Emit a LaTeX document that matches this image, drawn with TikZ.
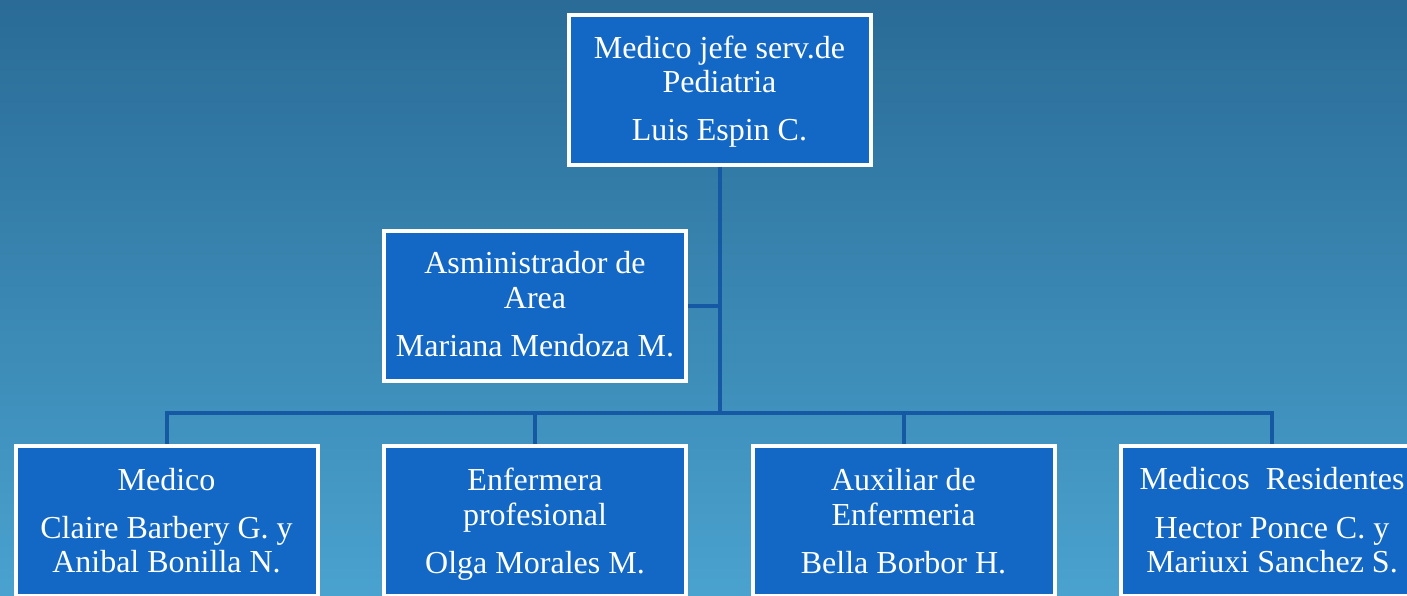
\documentclass[tikz,border=0pt]{standalone}
\usepackage{fontspec}
\setmainfont{Liberation Serif}
\definecolor{bgtop}{HTML}{2A6B97}
\definecolor{bgbot}{HTML}{4AA2CE}
\definecolor{boxfill}{HTML}{1268C4}
\definecolor{linecol}{HTML}{1558A4}
\tikzset{
  orgbox/.style={draw=white, line width=4pt, fill=boxfill, minimum width=302pt, minimum height=150pt, inner sep=0pt},
  conn/.style={draw=linecol, line width=4pt},
  txt/.style={text=white, anchor=base, inner sep=0pt, font=\fontsize{32}{35}\selectfont}
}
\begin{document}
\begin{tikzpicture}[x=1pt,y=1pt]
\useasboundingbox (0,0) rectangle (1407,-595);
\clip (0,0) rectangle (1407,-595);
\shade[top color=bgtop, bottom color=bgbot] (0,0) rectangle (1407,-595);
% boxes
\node[orgbox] (top) at (719.5,-89.5) {};
\node[orgbox] (adm) at (535,-305.5) {};
\node[orgbox] (m1) at (166.5,-521) {};
\node[orgbox] (m2) at (535,-521) {};
\node[orgbox] (m3) at (903.5,-521) {};
\node[orgbox] (m4) at (1272,-521) {};
\coordinate (bus) at (719.5,-413);
% connectors
\draw[conn] (top.south) -- (bus);
\draw[conn] (adm.east) -- (adm.east -| top.south);
\draw[conn] (bus) -| (m1.north);
\draw[conn] (bus) -| (m2.north);
\draw[conn] (bus) -| (m3.north);
\draw[conn] (bus) -| (m4.north);
% texts
\node[txt] (t1) at (719.5,-58) {Medico jefe serv.de};
\node[txt] (t2) at (719.5,-92) {Pediatria};
\node[txt] (t3) at (719.5,-140) {Luis Espin C.};
\node[txt] (a1) at (535,-273) {Asministrador de};
\node[txt] (a2) at (535,-308) {Area};
\node[txt] (a3) at (535,-356) {Mariana Mendoza M.};
\node[txt] (b1) at (166.5,-490) {Medico};
\node[txt] (b2) at (166.5,-538) {Claire Barbery G. y};
\node[txt] (b3) at (166.5,-572) {Anibal Bonilla N.};
\node[txt] (c1) at (535,-490) {Enfermera};
\node[txt] (c2) at (535,-525) {profesional};
\node[txt] (c3) at (535,-573) {Olga Morales M.};
\node[txt] (d1) at (903.5,-490) {Auxiliar de};
\node[txt] (d2) at (903.5,-525) {Enfermeria};
\node[txt] (d3) at (903.5,-573) {Bella Borbor H.};
\node[txt] (e1) at (1272,-489) {Medicos\ \ Residentes};
\node[txt] (e2) at (1272,-538) {Hector Ponce C. y};
\node[txt] (e3) at (1272,-572) {Mariuxi Sanchez S.};
\end{tikzpicture}
\end{document}
